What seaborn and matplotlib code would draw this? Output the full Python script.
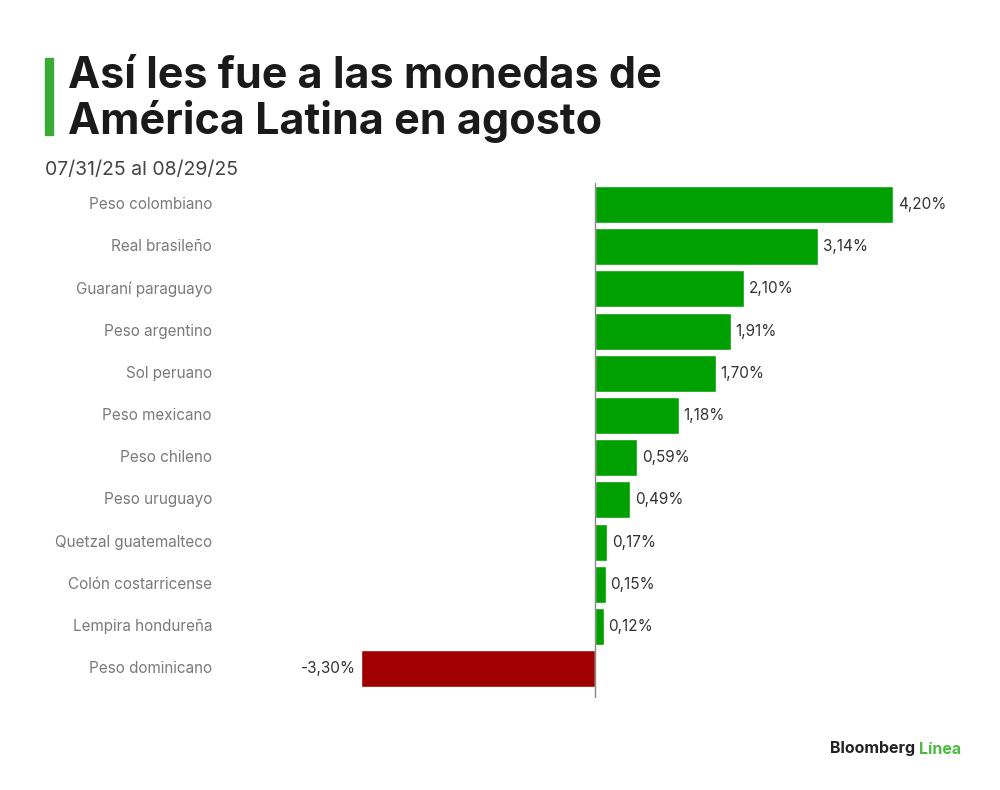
import matplotlib.pyplot as plt
import matplotlib.transforms as mtransforms
import seaborn as sns
import pandas as pd

# Monedas de America Latina, variacion en agosto
monedas = ["Peso colombiano", "Real brasileño", "Guaraní paraguayo", "Peso argentino",
           "Sol peruano", "Peso mexicano", "Peso chileno", "Peso uruguayo",
           "Quetzal guatemalteco", "Colón costarricense", "Lempira hondureña",
           "Peso dominicano"]
variacion = [4.20, 3.14, 2.10, 1.91, 1.70, 1.18, 0.59, 0.49, 0.17, 0.15, 0.12, -3.30]

df = pd.DataFrame({"Moneda": monedas, "Variacion": variacion})
df["Signo"] = df["Variacion"].apply(lambda v: "pos" if v >= 0 else "neg")

sns.set_style("white")
plt.rcParams["font.family"] = ["Inter", "DejaVu Sans"]

fig = plt.figure(figsize=(10, 7.9), dpi=100)
ax = fig.add_axes([0.30, 0.1165, 0.66, 0.6515])

sns.barplot(data=df, x="Variacion", y="Moneda", hue="Signo",
            palette={"pos": "#00a000", "neg": "#a00000"},
            width=0.875, dodge=False, legend=False, ax=ax, saturation=1)

ax.set_xlim((300 - 595) / 71, (960 - 595) / 71)
ax.set_ylim(len(monedas) - 1 + 0.69, -0.5)
ax.axvline(0, color="#888888", lw=1)
for s in ax.spines.values():
    s.set_visible(False)
ax.set_xticks([])
ax.set_yticks([])
ax.set_xlabel("")
ax.set_ylabel("")

# etiquetas de categorias a la izquierda
trans = mtransforms.blended_transform_factory(fig.transFigure, ax.transData)
for i, m in enumerate(monedas):
    ax.text(0.212, i, m, transform=trans, ha="right", va="center",
            fontsize=11, color="#7a7a7a")

# valores
for i, v in enumerate(variacion):
    txt = f"{v:.2f}".replace(".", ",") + "%"
    if v >= 0:
        ax.text(v + 0.07, i, txt, ha="left", va="center", fontsize=11, color="#333333")
    else:
        ax.text(v - 0.07, i, txt, ha="right", va="center", fontsize=11, color="#333333")

# titulo
fig.patches.append(plt.Rectangle((0.045, 1 - 135 / 790), 0.008, 77 / 790,
                                 transform=fig.transFigure, color="#3aa935"))
fig.text(0.068, 1 - 56 / 790, "Así les fue a las monedas de\nAmérica Latina en agosto",
         ha="left", va="top", fontsize=31, fontweight="bold", color="#1a1a1a",
         linespacing=1.08)
fig.text(0.045, 1 - 170 / 790, "07/31/25 al 08/29/25", ha="left", va="center",
         fontsize=14, color="#444444")

# logo
fig.text(0.915, 1 - 749 / 790, "Bloomberg", ha="right", va="center",
         fontsize=11.5, fontweight="bold", color="#222222")
fig.text(0.919, 1 - 749 / 790, "Línea", ha="left", va="center",
         fontsize=11.5, fontweight="bold", color="#4cbb3f")

fig.savefig("out.png", dpi=100, facecolor="white")
